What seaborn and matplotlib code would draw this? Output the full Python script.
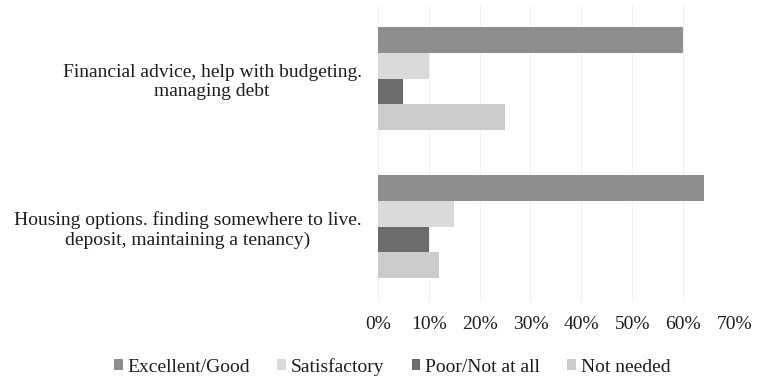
import matplotlib
matplotlib.use("Agg")
import matplotlib.pyplot as plt
from matplotlib.patches import Patch
from matplotlib.ticker import FuncFormatter
import seaborn as sns
import pandas as pd

# Support areas and percentage of respondents per rating
areas = [
    "Financial advice, help with budgeting.\nmanaging debt",
    "Housing options. finding somewhere to live.\ndeposit, maintaining a tenancy)",
]
ratings = ["Excellent/Good", "Satisfactory", "Poor/Not at all", "Not needed"]
excellent_good = [60, 64]
satisfactory = [10, 15]
poor_not_at_all = [5, 10]
not_needed = [25, 12]

colors = ["#8e8e8e", "#dadada", "#6c6c6c", "#cbcbcb"]

rows = []
for rating, vals in zip(ratings, [excellent_good, satisfactory, poor_not_at_all, not_needed]):
    for area, v in zip(areas, vals):
        rows.append({"area": area, "rating": rating, "pct": v})
df = pd.DataFrame(rows)

sns.set_theme(style="white")
plt.rcParams["font.family"] = ["Liberation Serif", "DejaVu Serif"]
plt.rcParams["text.color"] = "#1e1e1e"

fig = plt.figure(figsize=(7.6, 3.78), dpi=100)
ax = fig.add_axes([0.497, 0.205, 0.469, 0.783])

sns.barplot(data=df, y="area", x="pct", hue="rating", order=areas, hue_order=ratings,
            palette=colors, width=0.7, orient="h", saturation=1, linewidth=0,
            legend=False, ax=ax)

ax.set_xlim(0, 70)
ax.set_xticks(range(0, 71, 10))
ax.xaxis.set_major_formatter(FuncFormatter(lambda v, p: f"{int(v)}%"))
ax.grid(axis="x", color="#f1f1f1", linewidth=0.8)
ax.set_axisbelow(True)
ax.set_xlabel("")
ax.set_ylabel("")
for s in ax.spines.values():
    s.set_visible(False)
ax.tick_params(axis="x", length=0, pad=11, labelsize=14, colors="#1e1e1e")
ax.tick_params(axis="y", length=0, pad=11.5, labelsize=14, colors="#1e1e1e")
for lab in ax.get_yticklabels():
    lab.set_multialignment("center")

handles = [Patch(facecolor=c, edgecolor="none", label=r) for c, r in zip(colors, ratings)]
fig.legend(handles=handles, loc="center", bbox_to_anchor=(0.516, 0.03), ncol=4,
           frameon=False, fontsize=14, handlelength=0.45, handleheight=0.45,
           handletextpad=0.25, columnspacing=1.4, borderpad=0, borderaxespad=0)

fig.savefig("out.png", dpi=100, facecolor="white")
